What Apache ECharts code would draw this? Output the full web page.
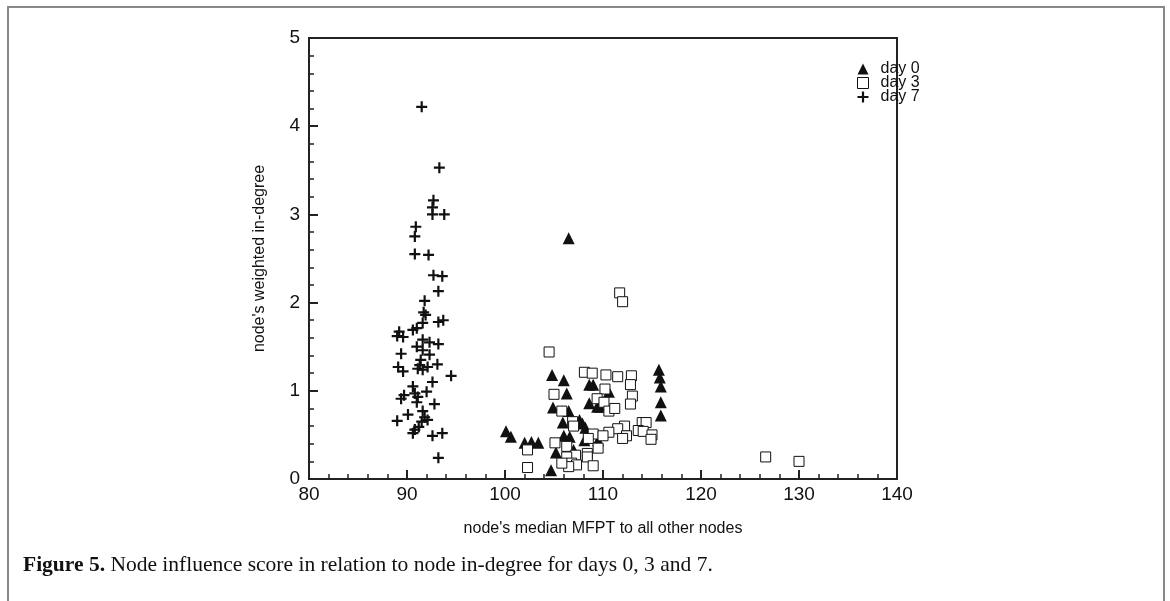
<!DOCTYPE html>
<html><head><meta charset="utf-8">
<script src="https://cdn.jsdelivr.net/npm/echarts@6/dist/echarts.min.js"></script>
<style>html,body{margin:0;padding:0;background:#fff}#c{width:1170px;height:601px}</style>
</head><body><div id="c"></div>
<script>
const xTicks = [80, 90, 100, 110, 120, 130, 140];
const yTicks = [0, 1, 2, 3, 4, 5];
const seriesNames = ['day 0', 'day 3', 'day 7'];
const day0 = [
  [106.5,2.73],[104.8,1.18],[106.0,1.12],[106.3,0.97],[104.9,0.81],[106.5,0.77],
  [108.6,1.07],[109.0,1.07],[110.6,0.99],[108.6,0.86],[109.4,0.82],[109.7,0.82],
  [105.9,0.64],[107.6,0.67],[107.9,0.63],[108.2,0.58],[106.0,0.49],[106.6,0.48],
  [108.1,0.44],[109.5,0.44],[105.2,0.30],[104.7,0.10],[100.1,0.54],[100.6,0.48],
  [102.0,0.41],[102.7,0.42],[103.4,0.41],[115.7,1.24],[115.8,1.15],[115.9,1.05],
  [115.9,0.87],[115.9,0.72],[107.0,0.33]
];
const day3 = [
  [111.7,2.11],[112.0,2.01],[104.5,1.44],[108.1,1.21],[108.9,1.20],[110.3,1.18],
  [111.5,1.16],[112.9,1.17],[112.8,1.07],[105.0,0.96],[110.2,1.02],[113.0,0.94],
  [109.4,0.91],[110.1,0.87],[112.8,0.85],[105.8,0.77],[110.6,0.77],[111.2,0.80],
  [106.9,0.65],[107.0,0.60],[114.0,0.64],[114.4,0.64],[113.6,0.55],[114.1,0.54],
  [112.2,0.60],[111.5,0.57],[110.6,0.53],[112.4,0.49],[112.0,0.46],[109.0,0.51],
  [110.0,0.49],[108.5,0.46],[115.0,0.50],[114.9,0.45],[105.1,0.41],[102.3,0.33],
  [106.3,0.37],[109.5,0.35],[107.2,0.27],[108.4,0.29],[108.4,0.25],[106.3,0.25],
  [106.8,0.18],[107.3,0.16],[106.5,0.14],[109.0,0.15],[102.3,0.13],[105.8,0.18],
  [126.6,0.25],[130.0,0.20]
];
const day7 = [
  [91.5,4.22],[93.3,3.53],[92.7,3.16],[92.6,3.08],[92.6,3.00],[93.8,3.00],
  [90.9,2.86],[90.8,2.75],[90.8,2.55],[92.2,2.54],[92.7,2.31],[93.6,2.30],
  [93.2,2.13],[91.8,2.02],[91.7,1.89],[91.9,1.86],[93.2,1.78],[93.7,1.80],
  [91.6,1.77],[91.0,1.71],[90.6,1.69],[89.2,1.67],[89.6,1.61],[89.0,1.62],
  [91.6,1.58],[92.3,1.55],[93.2,1.53],[91.0,1.50],[91.6,1.46],[89.4,1.42],
  [92.3,1.41],[91.4,1.35],[91.3,1.29],[92.1,1.27],[93.1,1.30],[89.1,1.27],
  [89.6,1.22],[91.1,1.25],[91.6,1.24],[94.5,1.17],[92.6,1.10],[90.6,1.05],
  [92.0,0.99],[90.8,0.97],[91.1,0.93],[89.7,0.95],[89.4,0.91],[91.0,0.87],
  [92.8,0.85],[91.6,0.77],[90.1,0.73],[91.8,0.70],[92.1,0.67],[89.0,0.66],
  [91.5,0.65],[91.2,0.59],[90.8,0.56],[90.6,0.52],[92.6,0.49],[93.6,0.52],
  [93.2,0.24]
];
const xName = "node's median MFPT to all other nodes";
const yName = "node's weighted in-degree";

const chart = echarts.init(document.getElementById('c'), null, {renderer: 'canvas'});
const plusPath = 'path://M4,0H6V4H10V6H6V10H4V6H0V4H4Z';
const labelFont = {color: '#111', fontFamily: 'Liberation Sans, Arial, sans-serif', fontSize: 19};
chart.setOption({
  animation: false,
  backgroundColor: '#fff',
  grid: {left: 309, right: 273, top: 38, bottom: 122, show: true, borderColor: '#222', borderWidth: 2, backgroundColor: 'transparent'},
  legend: {
    orient: 'vertical', left: 852, top: 56, itemGap: -2, itemWidth: 11, itemHeight: 11,
    data: [
      {name: seriesNames[0], icon: 'triangle', itemStyle: {color: '#111', borderWidth: 0}},
      {name: seriesNames[1], icon: 'rect', itemStyle: {color: '#fff', borderColor: '#111', borderWidth: 1}},
      {name: seriesNames[2], icon: plusPath, itemStyle: {color: '#111', borderWidth: 0}}
    ],
    textStyle: {color: '#111', fontFamily: 'Liberation Sans, Arial, sans-serif', fontSize: 16, padding: [0,0,0,7]},
    selectedMode: false
  },
  xAxis: {
    type: 'value', min: xTicks[0], max: xTicks[xTicks.length-1], interval: 10,
    name: xName, nameLocation: 'middle', nameGap: 42,
    nameTextStyle: {color: '#111', fontFamily: 'Liberation Sans, Arial, sans-serif', fontSize: 16},
    axisLine: {show: true, lineStyle: {color: '#222', width: 2}},
    axisTick: {show: true, inside: true, length: 9, lineStyle: {color: '#222', width: 2}},
    minorTick: {show: true, splitNumber: 5, length: 5, lineStyle: {color: '#222', width: 1.5}},
    splitLine: {show: false},
    axisLabel: Object.assign({margin: 6}, labelFont)
  },
  yAxis: {
    type: 'value', min: yTicks[0], max: yTicks[yTicks.length-1], interval: 1,
    name: yName, nameLocation: 'middle', nameGap: 41,
    nameTextStyle: {color: '#111', fontFamily: 'Liberation Sans, Arial, sans-serif', fontSize: 16},
    axisLine: {show: true, lineStyle: {color: '#222', width: 2}},
    axisTick: {show: true, inside: true, length: 9, lineStyle: {color: '#222', width: 2}},
    minorTick: {show: true, splitNumber: 5, length: 5, lineStyle: {color: '#222', width: 1.5}},
    splitLine: {show: false},
    axisLabel: Object.assign({margin: 9}, labelFont)
  },
  series: [
    {name: seriesNames[0], type: 'scatter', data: day0, symbol: 'triangle', symbolSize: 12,
     itemStyle: {color: '#111', opacity: 1}},
    {name: seriesNames[1], type: 'scatter', data: day3, symbol: 'rect', symbolSize: 10,
     itemStyle: {color: '#fff', borderColor: '#111', borderWidth: 1, opacity: 1}},
    {name: seriesNames[2], type: 'scatter', data: day7, symbol: plusPath, symbolSize: 11,
     itemStyle: {color: '#111', opacity: 1}}
  ],
  graphic: [
    {type: 'polyline', shape: {points: [[8, 601], [8, 7], [1164, 7], [1164, 601]]},
     style: {stroke: '#888', lineWidth: 2, fill: null}, silent: true},
    {type: 'text', left: 23, top: 554, style: {
      text: '{b|Figure 5.} Node influence score in relation to node in-degree for days 0, 3 and 7.',
      rich: {b: {fontWeight: 'bold', fontFamily: 'Liberation Serif, serif', fontSize: 21.5, fill: '#111'}},
      font: '21.5px Liberation Serif, serif', fill: '#111'}}
  ]
});
</script></body></html>
